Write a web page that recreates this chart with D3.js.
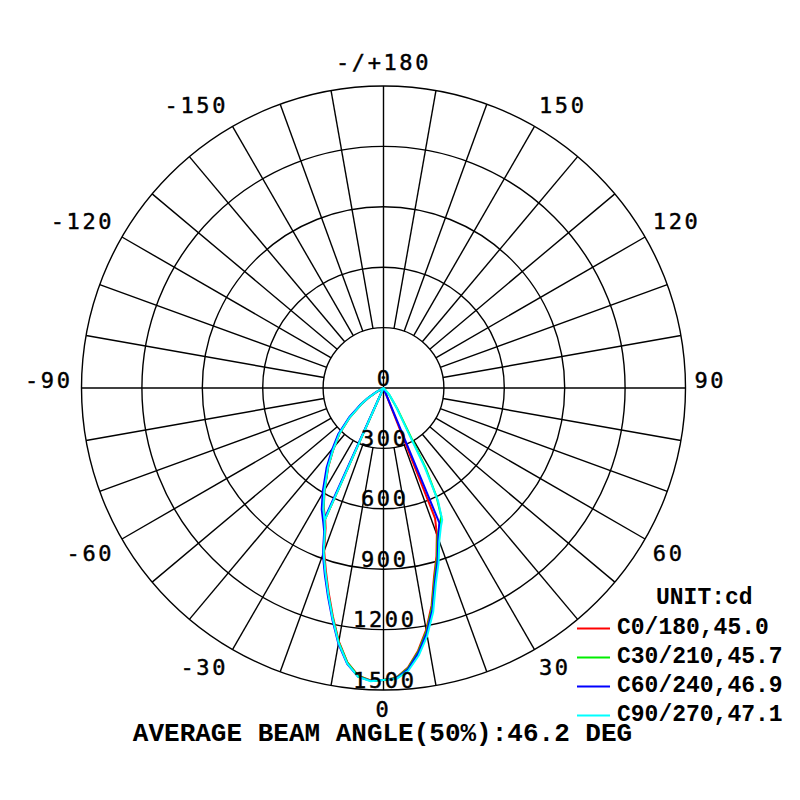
<!DOCTYPE html>
<html>
<head>
<meta charset="utf-8">
<script src="https://cdn.jsdelivr.net/npm/d3@7"></script>
<style>
    html, body { margin: 0; padding: 0; background: #fff; }
    svg { display: block; }
    .ang-label, .ring-label { font-family: "DejaVu Sans Mono", monospace; font-size: 22px; letter-spacing: 2.6px; fill: #000; stroke: #000; stroke-width: 0.45px; }
    .legend-text { font-family: "Liberation Mono", "Courier New", monospace; font-weight: bold; font-size: 23px; fill: #000; }
    .title { font-family: "Liberation Mono", "Courier New", monospace; font-weight: bold; font-size: 26px; fill: #000; }
</style>
</head>
<body>
<div id="chart"></div>
<script>
// Ring values (cd) and angle tick labels
const ringValues = [300, 600, 900, 1200, 1500];
const angleTicks = [180, 150, 120, 90, 60, 30, 0, -30, -60, -90, -120, -150];
const angleLabels = ['-/+180', '150', '120', '90', '60', '30', '0', '-30', '-60', '-90', '-120', '-150'];

// Main beam gamma angles (deg, 0 = down, + = right side)
const beamAngles = [-22.5, -20, -17.5, -15, -12.5, -10, -7.5, -5, -2.5, 0, 2.5, 5, 7.5, 10, 12.5, 15, 17.5, 20, 22.5];

// Upper left arc, shared shape (gamma)
const leftArcAngles = [-63, -60, -57, -54, -49, -44, -39, -35, -30, -26.5];

// C0/180 (red)
const c0Angles = [-24, -24, ...beamAngles.slice(0, 18), 21.6, ...leftArcAngles, -24];
const c0Cd = [0, 712, 752, 862, 952, 1052, 1162, 1278, 1374, 1434, 1454, 1450, 1440, 1394, 1316, 1220, 1105, 970, 875, 775, 696,
    0, 40, 88, 134, 220, 314, 398, 478, 585, 665, 712];

// C30/210 (green)
const c30Angles = [-24, -24, ...beamAngles, 24.2, 26, 27.8, 29.5, 33.5, 40, ...leftArcAngles, -24];
const c30Cd = [0, 722, 762, 872, 962, 1060, 1168, 1282, 1376, 1436, 1455, 1450, 1442, 1398, 1322, 1228, 1115, 980, 885, 785, 730,
    700, 600, 450, 260, 125, 48, 0, 42, 90, 136, 222, 316, 400, 481, 588, 670, 722];

// C60/240 (blue)
const c60Angles = [-24.3, -24.3, ...beamAngles, ...leftArcAngles.map(a => a - 0.5), -24.3];
const c60Cd = [0, 728, 770, 880, 970, 1068, 1176, 1290, 1382, 1440, 1456, 1450, 1444, 1402, 1328, 1236, 1125, 990, 895, 795, 725,
    0, 42, 92, 138, 225, 320, 405, 487, 594, 676, 728];

// C90/270 (cyan)
const c90Angles = [-24, -24, ...beamAngles, 24, 25.8, 27.5, 29, 31, 35, 42, ...leftArcAngles, -24];
const c90Cd = [0, 720, 760, 870, 960, 1060, 1170, 1285, 1380, 1440, 1458, 1450, 1447, 1410, 1340, 1250, 1140, 1005, 910, 810, 745,
    717, 621, 444, 255, 170, 97, 40, 0, 42, 90, 136, 222, 316, 400, 481, 588, 670, 720];

const seriesNames = ['C0/180,45.0', 'C30/210,45.7', 'C60/240,46.9', 'C90/270,47.1'];
const seriesColors = ['#ff0000', '#00ee00', '#0000ff', '#00ffff'];
const seriesData = [
    d3.zip(c0Angles, c0Cd),
    d3.zip(c30Angles, c30Cd),
    d3.zip(c60Angles, c60Cd),
    d3.zip(c90Angles, c90Cd)
];

const width = 800, height = 800;
const cx = 383.5, cy = 388;
const maxR = 302;

const svg = d3.select('#chart')
    .append('svg')
    .attr('width', width)
    .attr('height', height);

const r = d3.scaleLinear().domain([0, 1500]).range([0, maxR]);
const rad = deg => deg * Math.PI / 180;
// gamma angle -> screen point
const toXY = (deg, v) => [cx + r(v) * Math.sin(rad(deg)), cy + r(v) * Math.cos(rad(deg))];

const grid = svg.append('g')
    .attr('stroke', '#000')
    .attr('stroke-width', 1.4)
    .attr('fill', 'none');

// Rings
grid.selectAll('circle')
    .data(ringValues)
    .enter().append('circle')
    .attr('cx', cx)
    .attr('cy', cy)
    .attr('r', d => r(d));

// Spokes every 10 deg, from the first ring outwards
const spokes = d3.range(-170, 180, 10).filter(a => a % 90 !== 0);
grid.selectAll('line.spoke')
    .data(spokes)
    .enter().append('line')
    .attr('class', 'spoke')
    .attr('x1', d => toXY(d, ringValues[0])[0])
    .attr('y1', d => toXY(d, ringValues[0])[1])
    .attr('x2', d => toXY(d, 1500)[0])
    .attr('y2', d => toXY(d, 1500)[1]);

// Main axes through the centre
grid.selectAll('line.axis')
    .data([0, 90])
    .enter().append('line')
    .attr('class', 'axis')
    .attr('x1', d => toXY(d, 1500)[0])
    .attr('y1', d => toXY(d, 1500)[1])
    .attr('x2', d => toXY(d + 180, 1500)[0])
    .attr('y2', d => toXY(d + 180, 1500)[1]);

// Angle labels
svg.selectAll('.ang-label')
    .data(angleTicks)
    .enter().append('text')
    .attr('class', 'ang-label')
    .attr('x', d => cx + 311 * Math.sin(rad(d)))
    .attr('y', d => cy + (Math.cos(rad(d)) > 0.01 ? 313 : 318) * Math.cos(rad(d)))
    .attr('dy', d => Math.cos(rad(d)) > 0.01 ? '0.74em' : 0)
    .attr('text-anchor', d => {
        const s = Math.sin(rad(d));
        return Math.abs(s) < 0.01 ? 'middle' : (s > 0 ? 'start' : 'end');
    })
    .text((d, i) => angleLabels[i]);

// Curves
const line = d3.lineRadial()
    .angle(d => Math.PI - rad(d[0]))
    .radius(d => r(d[1]));

svg.append('g')
    .attr('transform', `translate(${cx},${cy})`)
    .selectAll('path')
    .data(seriesData)
    .enter().append('path')
    .attr('d', line)
    .attr('fill', 'none')
    .attr('stroke', (d, i) => seriesColors[i])
    .attr('stroke-width', 2)
    .attr('stroke-linejoin', 'round');

// Ring value labels
svg.selectAll('.ring-label')
    .data([0, ...ringValues])
    .enter().append('text')
    .attr('class', 'ring-label')
    .attr('x', cx + 1.3)
    .attr('y', d => cy + r(d) - 2.5)
    .attr('text-anchor', 'middle')
    .text(d => d);

// Legend
const legend = svg.append('g');
legend.append('text')
    .attr('class', 'legend-text')
    .attr('x', 656)
    .attr('y', 604)
    .text('UNIT:cd');

const rows = legend.selectAll('g.row')
    .data(seriesNames)
    .enter().append('g')
    .attr('class', 'row')
    .attr('transform', (d, i) => `translate(0,${628.5 + i * 29})`);

rows.append('line')
    .attr('x1', 577)
    .attr('x2', 610)
    .attr('stroke', (d, i) => seriesColors[i])
    .attr('stroke-width', 2);

rows.append('text')
    .attr('class', 'legend-text')
    .attr('x', 617)
    .attr('y', 5)
    .text(d => d);

// Title
svg.append('text')
    .attr('class', 'title')
    .attr('x', 382.5)
    .attr('y', 741)
    .attr('text-anchor', 'middle')
    .text('AVERAGE BEAM ANGLE(50%):46.2 DEG');
</script>
</body>
</html>
